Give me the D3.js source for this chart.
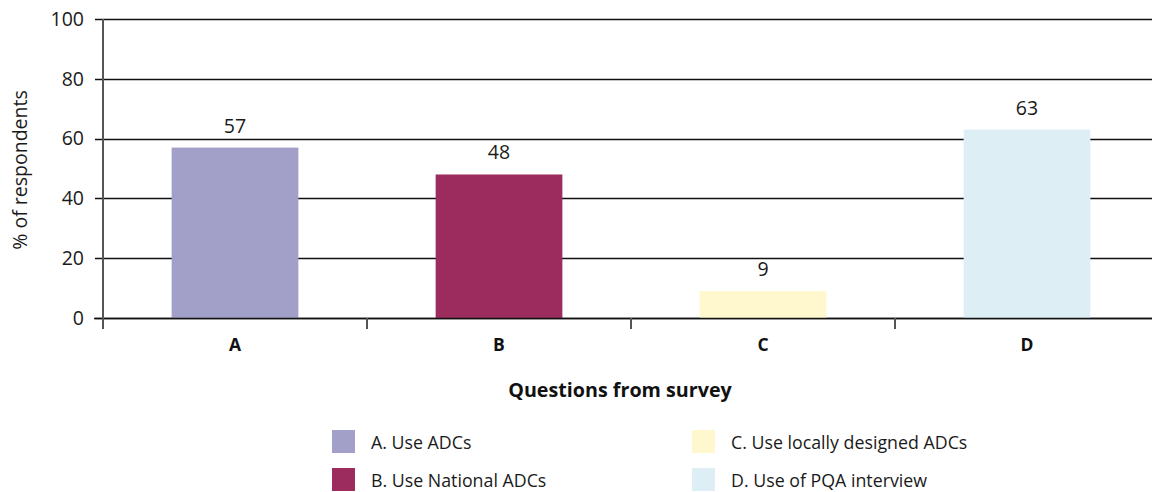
<!DOCTYPE html>
<html>
<head>
<meta charset="utf-8">
<script src="https://cdn.jsdelivr.net/npm/d3@7"></script>
<style>
  html, body { margin: 0; padding: 0; background: #fff; }
  svg { display: block; font-family: "Open Sans", "Noto Sans", sans-serif; }
</style>
</head>
<body>
<svg id="chart" width="1152" height="492"></svg>
<script>
// Survey results: share of respondents per question
const categories = ["A", "B", "C", "D"];
const values = [57, 48, 9, 63];
const legendLabels = [
  "A. Use ADCs",
  "B. Use National ADCs",
  "C. Use locally designed ADCs",
  "D. Use of PQA interview"
];
const colors = ["#a29fc9", "#9c2b5e", "#fff8cf", "#ddeef5"];
const yTicks = [0, 20, 40, 60, 80, 100];

const svg = d3.select("#chart");
const W = 1152;

const plotLeft = 103, plotRight = 1159, plotTop = 19, plotBottom = 318;

const x = d3.scaleBand().domain(categories).range([plotLeft, plotRight]).padding(0);
const y = d3.scaleLinear().domain([0, 100]).range([plotBottom, plotTop]);
const barW = x.bandwidth() * 0.48;

// horizontal gridlines (drawn under the bars)
svg.append("g")
  .selectAll("line")
  .data(yTicks)
  .join("line")
  .attr("x1", plotLeft - 8)
  .attr("x2", W)
  .attr("y1", d => Math.round(y(d)) + 0.5)
  .attr("y2", d => Math.round(y(d)) + 0.5)
  .attr("stroke", "#111")
  .attr("stroke-width", 1.6);

// y tick labels
svg.append("g")
  .selectAll("text")
  .data(yTicks)
  .join("text")
  .attr("x", plotLeft - 19)
  .attr("y", d => y(d))
  .attr("dy", "0.35em")
  .attr("text-anchor", "end")
  .attr("font-size", 19.5)
  .attr("fill", "#1a1a1a")
  .text(d => d);

// bars
svg.append("g")
  .selectAll("rect")
  .data(categories)
  .join("rect")
  .attr("x", d => x(d) + (x.bandwidth() - barW) / 2)
  .attr("width", barW)
  .attr("y", (d, i) => y(values[i]))
  .attr("height", (d, i) => y(0) - y(values[i]))
  .attr("fill", (d, i) => colors[i]);

// value labels
svg.append("g")
  .selectAll("text")
  .data(categories)
  .join("text")
  .attr("x", d => x(d) + x.bandwidth() / 2)
  .attr("y", (d, i) => y(values[i]) - 15)
  .attr("text-anchor", "middle")
  .attr("font-size", 19.5)
  .attr("fill", "#1a1a1a")
  .text((d, i) => values[i]);

// baseline
svg.append("line")
  .attr("x1", plotLeft - 9).attr("x2", W)
  .attr("y1", y(0) + 0.5).attr("y2", y(0) + 0.5)
  .attr("stroke", "#111").attr("stroke-width", 1.6);

// y axis line
svg.append("line")
  .attr("x1", plotLeft).attr("x2", plotLeft)
  .attr("y1", plotTop).attr("y2", plotBottom + 11)
  .attr("stroke", "#555").attr("stroke-width", 2);

// x category separators
svg.append("g")
  .selectAll("line")
  .data(categories.slice(1))
  .join("line")
  .attr("x1", d => x(d)).attr("x2", d => x(d))
  .attr("y1", plotBottom).attr("y2", plotBottom + 11)
  .attr("stroke", "#555").attr("stroke-width", 2);

// category labels
svg.append("g")
  .selectAll("text")
  .data(categories)
  .join("text")
  .attr("x", d => x(d) + x.bandwidth() / 2)
  .attr("y", 351)
  .attr("text-anchor", "middle")
  .attr("font-size", 17.5)
  .attr("font-weight", "bold")
  .attr("fill", "#111")
  .text(d => d);

// axis titles
svg.append("text")
  .attr("x", 620).attr("y", 397)
  .attr("text-anchor", "middle")
  .attr("font-size", 19.7)
  .attr("font-weight", "bold")
  .attr("fill", "#111")
  .text("Questions from survey");

svg.append("text")
  .attr("transform", "translate(27,170) rotate(-90)")
  .attr("text-anchor", "middle")
  .attr("font-size", 19.5)
  .attr("fill", "#1a1a1a")
  .text("% of respondents");

// legend in two columns
const legendPos = [[332, 430], [332, 468], [692, 430], [692, 468]];
const lg = svg.append("g")
  .selectAll("g")
  .data(legendLabels)
  .join("g")
  .attr("transform", (d, i) => `translate(${legendPos[i][0]},${legendPos[i][1]})`);
lg.append("rect")
  .attr("width", 23).attr("height", 23)
  .attr("fill", (d, i) => colors[i]);
lg.append("text")
  .attr("x", 39).attr("y", 19)
  .attr("font-size", 17.8)
  .attr("fill", "#1a1a1a")
  .text(d => d);
</script>
</body>
</html>
